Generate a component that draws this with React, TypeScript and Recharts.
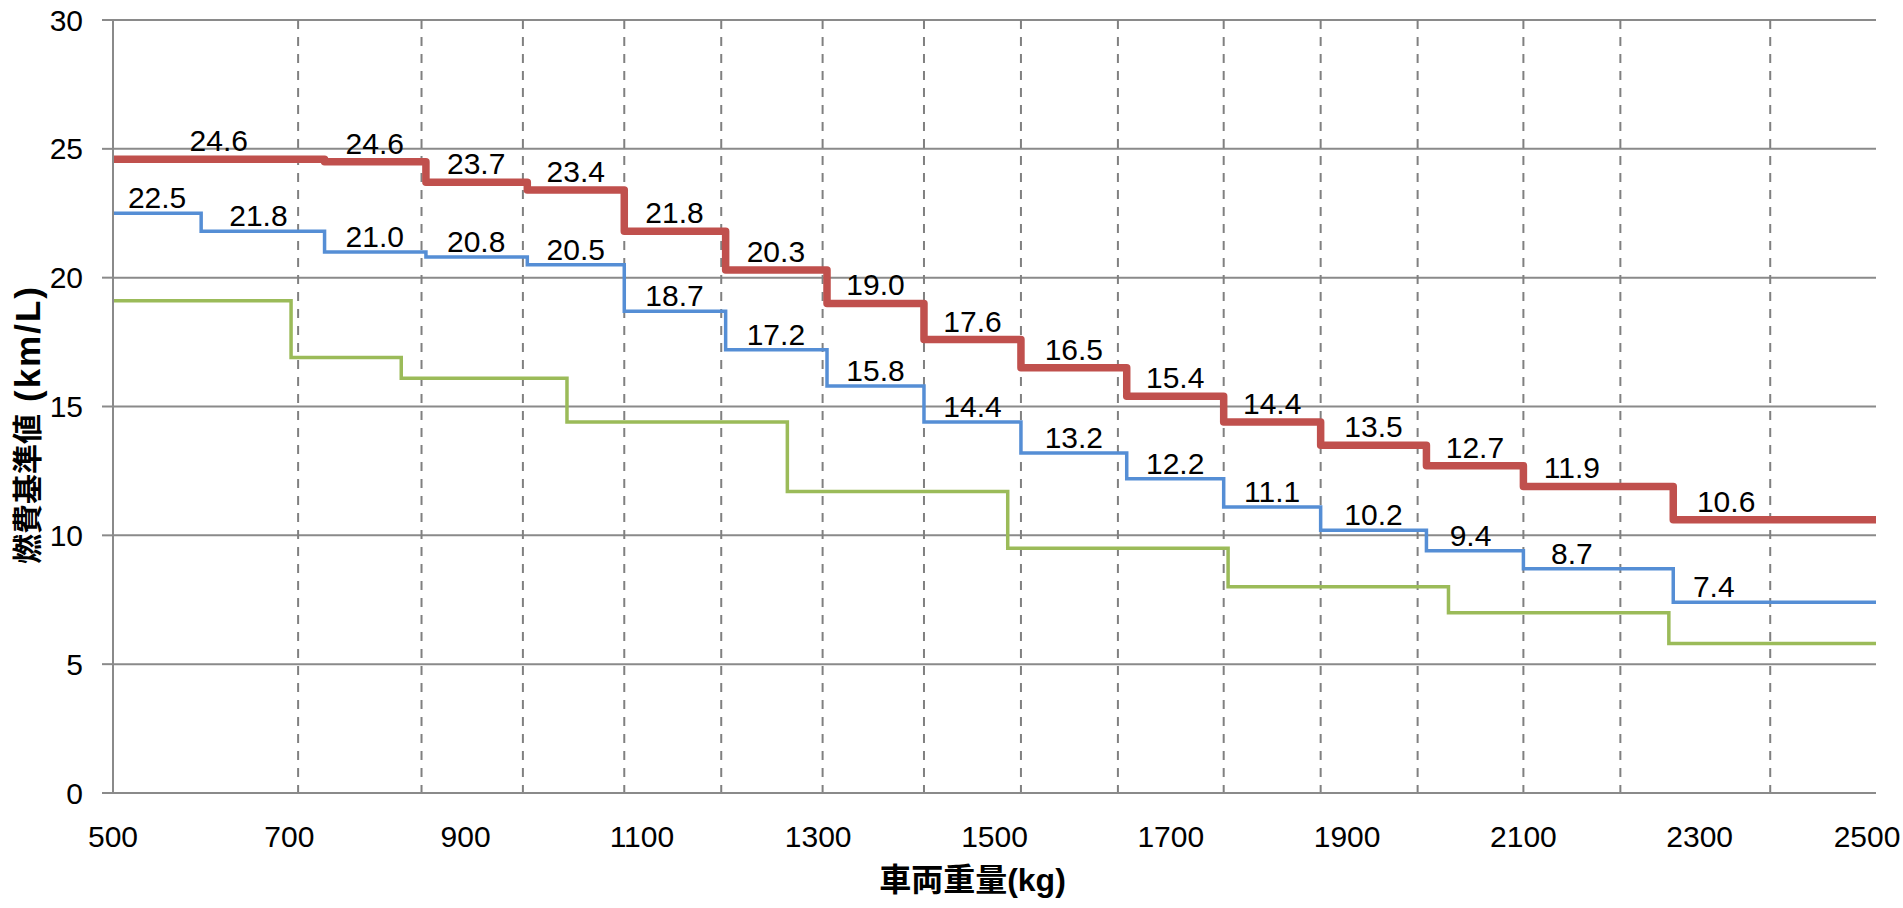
import {
  CartesianGrid,
  ComposedChart,
  Label,
  LabelList,
  Line,
  XAxis,
  YAxis,
} from "recharts";

const FONT = "'Liberation Sans', Arial, 'Noto Sans CJK JP', sans-serif";
const W = 1903;
const H = 908;

const X_MIN = 500;
const X_MAX = 2500;
const xTicks = [500, 700, 900, 1100, 1300, 1500, 1700, 1900, 2100, 2300, 2500];
const yTicks = [0, 5, 10, 15, 20, 25, 30];

// 点線の縦線（重量区分の目安）
const dashedAt = [500, 710, 850, 965, 1080, 1190, 1305, 1420, 1530, 1640, 1760, 1870, 1980, 2100, 2210, 2380];

// 赤：太線
const redFrom = [500, 740, 855, 970, 1080, 1195, 1310, 1420, 1530, 1650, 1760, 1870, 1990, 2100, 2270];
const redVals = [24.6, 24.5, 23.7, 23.4, 21.8, 20.3, 19.0, 17.6, 16.5, 15.4, 14.4, 13.5, 12.7, 11.9, 10.6];
const redText = ["24.6", "24.6", "23.7", "23.4", "21.8", "20.3", "19.0", "17.6", "16.5", "15.4", "14.4", "13.5", "12.7", "11.9", "10.6"];
const redLabelAt = [620, 797, 912, 1025, 1137, 1252, 1365, 1475, 1590, 1705, 1815, 1930, 2045, 2155, 2330];

// 青
const blueFrom = [500, 600, 740, 855, 970, 1080, 1195, 1310, 1420, 1530, 1650, 1760, 1870, 1990, 2100, 2270];
const blueVals = [22.5, 21.8, 21.0, 20.8, 20.5, 18.7, 17.2, 15.8, 14.4, 13.2, 12.2, 11.1, 10.2, 9.4, 8.7, 7.4];
const blueLabelAt = [550, 665, 797, 912, 1025, 1137, 1252, 1365, 1475, 1590, 1705, 1815, 1930, 2040, 2155, 2316];

// 緑（ラベルなし）
const greenFrom = [500, 702, 827, 1015, 1265, 1515, 1765, 2015, 2265];
const greenVals = [19.1, 16.9, 16.1, 14.4, 11.7, 9.5, 8.0, 7.0, 5.8];

const steps = (from: number[], vals: number[]) => [
  ...from.map((w, i) => ({ w, v: vals[i] })),
  { w: X_MAX, v: vals[vals.length - 1] },
];

const labelPoints = (at: number[], vals: number[], text: string[]) =>
  at.map((w, i) => ({ w, v: vals[i], t: text[i] }));

const makeLabel = (lift: number) => (p: any) => {
  const x = p.x ?? p.viewBox?.x;
  const y = p.y ?? p.viewBox?.y;
  if (x == null || y == null) return null;
  return (
    <text
      x={x}
      y={y - lift}
      textAnchor="middle"
      fontSize={30}
      fontFamily={FONT}
      fill="#000"
    >
      {p.value}
    </text>
  );
};

// 右端の「2500」が画面外にはみ出さないように少し寄せる
const XTick = ({ x, y, payload }: any) => (
  <text
    x={Math.min(x, W - 36)}
    y={y}
    dy="0.71em"
    textAnchor="middle"
    fontSize={30}
    fontFamily={FONT}
    fill="#000"
  >
    {payload.value}
  </text>
);

export default function App() {
  return (
    <div style={{ position: "absolute", left: 0, top: 0 }}>
      <ComposedChart
        width={W}
        height={H}
        margin={{ top: 20, right: 27, bottom: 0, left: 0 }}
      >
        <CartesianGrid vertical={false} stroke="#8a8a8a" strokeWidth={2} />
        <CartesianGrid
          horizontal={false}
          verticalValues={dashedAt}
          stroke="#808080"
          strokeWidth={2}
          strokeDasharray="9 8"
        />
        <XAxis
          type="number"
          dataKey="w"
          domain={[X_MIN, X_MAX]}
          ticks={xTicks}
          allowDataOverflow
          height={115}
          axisLine={{ stroke: "#8a8a8a", strokeWidth: 2 }}
          tickLine={false}
          tickSize={0}
          tickMargin={33}
          tick={<XTick />}
        >
          <Label
            content={({ viewBox }: any) => (
              <text
                x={viewBox.x + viewBox.width / 2 - 22}
                y={viewBox.y + 87}
                textAnchor="middle"
                dominantBaseline="central"
                fontSize={32}
                fontWeight="bold"
                fontFamily={FONT}
                fill="#000"
              >
                車両重量(kg)
              </text>
            )}
          />
        </XAxis>
        <YAxis
          type="number"
          domain={[0, 30]}
          ticks={yTicks}
          width={113}
          axisLine={{ stroke: "#8a8a8a", strokeWidth: 2 }}
          tickLine={{ stroke: "#8a8a8a", strokeWidth: 2 }}
          tickSize={11}
          tickMargin={19}
          tick={{ fill: "#000", fontSize: 30, fontFamily: FONT }}
        >
          <Label
            content={({ viewBox }: any) => {
              const cx = viewBox.x + 27;
              const cy = viewBox.y + viewBox.height / 2 + 18;
              return (
                <text
                  x={cx}
                  y={cy}
                  transform={`rotate(-90 ${cx} ${cy})`}
                  textAnchor="middle"
                  dominantBaseline="central"
                  fontSize={30}
                  fontWeight="bold"
                  fontFamily={FONT}
                  fill="#000"
                >
                  燃費基準値
                  <tspan dx={12} fontSize={35} letterSpacing={2}>
                    (km/L)
                  </tspan>
                </text>
              );
            }}
          />
        </YAxis>

        <Line
          data={steps(greenFrom, greenVals)}
          dataKey="v"
          type="stepAfter"
          stroke="#9BBB59"
          strokeWidth={3.5}
          dot={false}
          activeDot={false}
          isAnimationActive={false}
        />
        <Line
          data={steps(blueFrom, blueVals)}
          dataKey="v"
          type="stepAfter"
          stroke="#558ED5"
          strokeWidth={3.5}
          dot={false}
          activeDot={false}
          isAnimationActive={false}
        />
        <Line
          data={steps(redFrom, redVals)}
          dataKey="v"
          type="stepAfter"
          stroke="#C0504D"
          strokeWidth={7.5}
          strokeLinejoin="round"
          dot={false}
          activeDot={false}
          isAnimationActive={false}
        />

        {/* データラベル */}
        <Line
          data={labelPoints(blueLabelAt, blueVals, blueVals.map((v) => v.toFixed(1)))}
          dataKey="v"
          stroke="none"
          dot={false}
          activeDot={false}
          isAnimationActive={false}
        >
          <LabelList dataKey="t" content={makeLabel(5)} />
        </Line>
        <Line
          data={labelPoints(redLabelAt, redVals, redText)}
          dataKey="v"
          stroke="none"
          dot={false}
          activeDot={false}
          isAnimationActive={false}
        >
          <LabelList dataKey="t" content={makeLabel(8)} />
        </Line>
      </ComposedChart>
    </div>
  );
}
